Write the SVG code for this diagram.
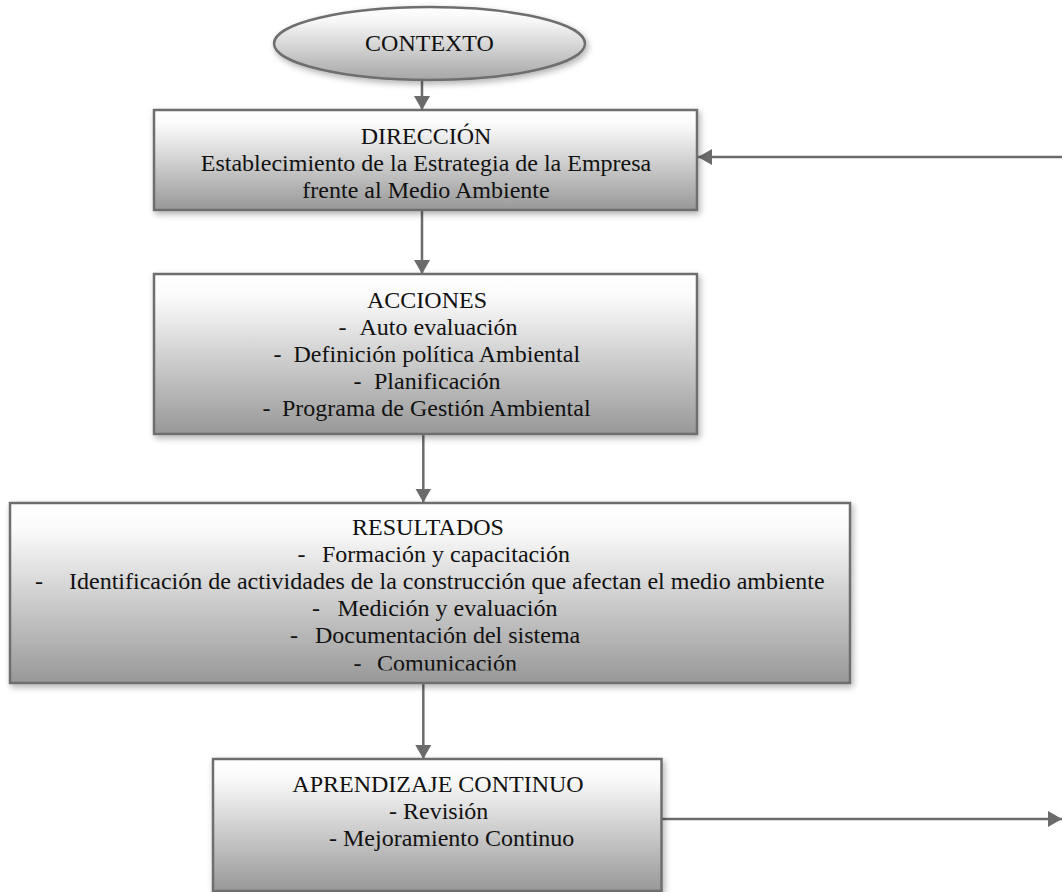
<svg xmlns="http://www.w3.org/2000/svg" width="1062" height="892" viewBox="0 0 1062 892">
<style>
text{font-family:"Liberation Serif","Times New Roman",serif;font-size:24px;fill:#111;}
.c{text-anchor:middle;}
.box{fill:url(#g);stroke:#6e6e6e;stroke-width:2.5;filter:url(#sh);}
.ell{fill:url(#ge);stroke:#6e6e6e;stroke-width:2.5;filter:url(#sh);}
.con{stroke:#6b6b6b;stroke-width:2.5;fill:none;marker-end:url(#ah);}
</style>
<defs>
<linearGradient id="g" x1="0" y1="0" x2="0" y2="1">
<stop offset="0" stop-color="#ffffff"/>
<stop offset="0.15" stop-color="#fafafa"/>
<stop offset="1" stop-color="#989898"/>
</linearGradient>
<linearGradient id="ge" x1="0" y1="0" x2="0" y2="1">
<stop offset="0" stop-color="#ffffff"/>
<stop offset="0.2" stop-color="#f6f6f6"/>
<stop offset="1" stop-color="#a6a6a6"/>
</linearGradient>
<filter id="sh" x="-5%" y="-10%" width="115%" height="130%">
<feDropShadow dx="2" dy="3" stdDeviation="3" flood-color="#000" flood-opacity="0.3"/>
</filter>
<marker id="ah" markerUnits="userSpaceOnUse" markerWidth="16" markerHeight="16" refX="14" refY="8" orient="auto">
<path d="M0,0 L14,8 L0,16 z" fill="#6b6b6b"/>
</marker>
<clipPath id="clipRes"><rect x="10" y="503" width="840" height="167.5"/></clipPath>
</defs>

<g id="connectors">
<line class="con" x1="422" y1="80" x2="422" y2="110"/>
<line class="con" x1="422" y1="211" x2="422" y2="274"/>
<line class="con" x1="423.3" y1="435" x2="423.3" y2="502.5"/>
<line class="con" x1="423.3" y1="684" x2="423.3" y2="759"/>
<line class="con" x1="1062" y1="157" x2="698" y2="157"/>
<line class="con" x1="662" y1="819" x2="1062" y2="819"/>
</g>

<g id="contexto">
<ellipse class="ell" cx="429.5" cy="43.5" rx="155.5" ry="36.5"/>
<text class="c" x="429.5" y="51">CONTEXTO</text>
</g>

<g id="direccion">
<rect class="box" x="154" y="110" width="543" height="100"/>
<text class="c" x="426" y="143.5">DIRECCIÓN</text>
<text class="c" x="426" y="170.5">Establecimiento de la Estrategia de la Empresa</text>
<text class="c" x="426" y="197.5">frente al Medio Ambiente</text>
</g>

<g id="acciones">
<rect class="box" x="154" y="274" width="543" height="160"/>
<text class="c" x="427" y="308">ACCIONES</text>
<text y="335"><tspan x="338.5">-</tspan><tspan x="359.5">Auto evaluación</tspan></text>
<text y="362"><tspan x="273.5">-</tspan><tspan x="293.5">Definición política Ambiental</tspan></text>
<text y="389"><tspan x="353.5">-</tspan><tspan x="374">Planificación</tspan></text>
<text y="416"><tspan x="262.5">-</tspan><tspan x="282">Programa de Gestión Ambiental</tspan></text>
</g>

<g id="resultados">
<rect class="box" x="10" y="503" width="840" height="180"/>
<g clip-path="url(#clipRes)">
<text class="c" x="428" y="535">RESULTADOS</text>
<text y="562"><tspan x="297.5">-</tspan><tspan x="322">Formación y capacitación</tspan></text>
<text y="589"><tspan x="35">-</tspan><tspan x="69">Identificación de actividades de la construcción que afectan el medio ambiente</tspan></text>
<text y="616"><tspan x="312">-</tspan><tspan x="337.5">Medición y evaluación</tspan></text>
<text y="643"><tspan x="290">-</tspan><tspan x="315">Documentación del sistema</tspan></text>
<text y="671"><tspan x="353.5">-</tspan><tspan x="377">Comunicación</tspan></text>
</g>
</g>

<g id="aprendizaje">
<rect class="box" x="213" y="759" width="448.5" height="132"/>
<text class="c" x="438" y="792">APRENDIZAJE CONTINUO</text>
<text x="389" y="819">- Revisión</text>
<text x="329" y="846">- Mejoramiento Continuo</text>
</g>
</svg>
